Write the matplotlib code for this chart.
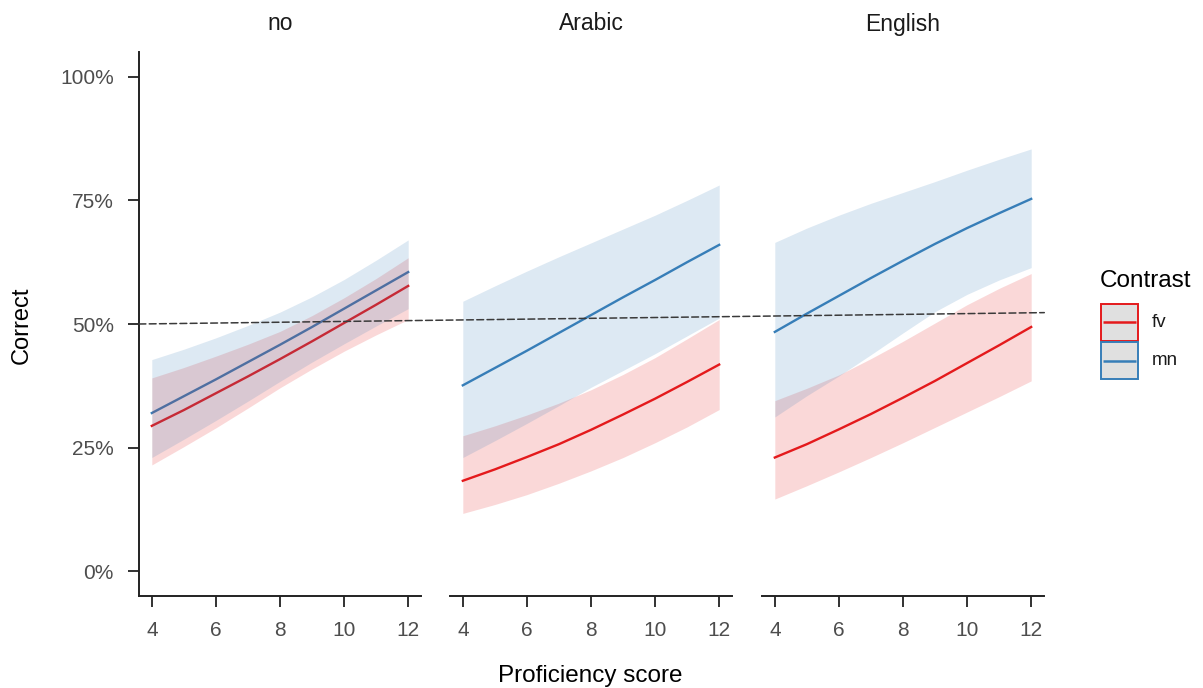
import matplotlib.pyplot as plt
from matplotlib.patches import Rectangle, ConnectionPatch
from matplotlib.ticker import PercentFormatter

plt.rcParams['font.family'] = ['Liberation Sans', 'DejaVu Sans']

# Proficiency scores where the model predictions are evaluated
score = [4, 5, 6, 7, 8, 9, 10, 11, 12]
panels = ['no', 'Arabic', 'English']
contrasts = ['fv', 'mn']

# Predicted proportion correct (fit, lower and upper 95% CI) per panel
no_fv_fit = [0.294, 0.326, 0.360, 0.394, 0.429, 0.465, 0.502, 0.539, 0.577]
no_fv_lo = [0.215, 0.252, 0.290, 0.330, 0.371, 0.409, 0.445, 0.478, 0.509]
no_fv_hi = [0.391, 0.412, 0.435, 0.459, 0.485, 0.517, 0.553, 0.592, 0.634]
no_mn_fit = [0.320, 0.354, 0.388, 0.423, 0.458, 0.494, 0.531, 0.568, 0.605]
no_mn_lo = [0.230, 0.267, 0.305, 0.344, 0.384, 0.423, 0.460, 0.496, 0.531]
no_mn_hi = [0.428, 0.449, 0.472, 0.497, 0.524, 0.555, 0.590, 0.629, 0.670]

ar_fv_fit = [0.183, 0.206, 0.231, 0.257, 0.286, 0.317, 0.349, 0.383, 0.418]
ar_fv_lo = [0.117, 0.135, 0.155, 0.178, 0.203, 0.230, 0.260, 0.292, 0.327]
ar_fv_hi = [0.274, 0.294, 0.316, 0.340, 0.367, 0.398, 0.432, 0.470, 0.509]
ar_mn_fit = [0.376, 0.411, 0.446, 0.482, 0.518, 0.554, 0.589, 0.625, 0.660]
ar_mn_lo = [0.230, 0.264, 0.299, 0.335, 0.372, 0.406, 0.440, 0.476, 0.512]
ar_mn_hi = [0.546, 0.577, 0.607, 0.636, 0.664, 0.692, 0.720, 0.750, 0.781]

en_fv_fit = [0.230, 0.257, 0.287, 0.318, 0.351, 0.385, 0.421, 0.457, 0.494]
en_fv_lo = [0.146, 0.173, 0.201, 0.230, 0.260, 0.291, 0.322, 0.353, 0.385]
en_fv_hi = [0.345, 0.370, 0.397, 0.430, 0.465, 0.502, 0.539, 0.572, 0.602]
en_mn_fit = [0.484, 0.521, 0.557, 0.593, 0.628, 0.662, 0.694, 0.724, 0.753]
en_mn_lo = [0.312, 0.355, 0.395, 0.438, 0.482, 0.525, 0.560, 0.589, 0.614]
en_mn_hi = [0.665, 0.694, 0.720, 0.744, 0.766, 0.788, 0.811, 0.833, 0.854]

# Chance reference line (start in first panel, end in last panel)
chance_start = 0.500
chance_end = 0.523

fits = {
    'no': {'fv': (no_fv_fit, no_fv_lo, no_fv_hi), 'mn': (no_mn_fit, no_mn_lo, no_mn_hi)},
    'Arabic': {'fv': (ar_fv_fit, ar_fv_lo, ar_fv_hi), 'mn': (ar_mn_fit, ar_mn_lo, ar_mn_hi)},
    'English': {'fv': (en_fv_fit, en_fv_lo, en_fv_hi), 'mn': (en_mn_fit, en_mn_lo, en_mn_hi)},
}
colors = {'fv': '#E41A1C', 'mn': '#377EB8'}

W, H = 1203, 688
fig = plt.figure(figsize=(W / 100, H / 100), dpi=100)

lefts = [139, 450, 762]
axes = []
for i, (name, left) in enumerate(zip(panels, lefts)):
    ax = fig.add_axes([left / W, 92 / H, 282 / W, 544 / H])
    axes.append(ax)
    # lines first, ribbons laid over them
    for contrast in contrasts:
        fit, lo, hi = fits[name][contrast]
        ax.plot(score, fit, color=colors[contrast], lw=1.7, zorder=2)
    for contrast in contrasts:
        fit, lo, hi = fits[name][contrast]
        ax.fill_between(score, lo, hi, color=colors[contrast], alpha=0.17,
                        lw=0, zorder=3)

    ax.set_xlim(3.6, 12.4)
    ax.set_ylim(-0.05, 1.05)
    ax.set_xticks([4, 6, 8, 10, 12])
    ax.set_yticks([0, 0.25, 0.5, 0.75, 1.0])
    ax.yaxis.set_major_formatter(PercentFormatter(1.0, decimals=0))
    for side in ['top', 'right']:
        ax.spines[side].set_visible(False)
    ax.spines['bottom'].set_linewidth(1.4)
    ax.spines['bottom'].set_color('#222222')
    ax.tick_params(axis='both', length=8, width=1.3, color='#222222',
                   labelsize=15, labelcolor='#4D4D4D')
    ax.tick_params(axis='x', pad=10)
    ax.tick_params(axis='y', pad=10)
    if i == 0:
        ax.spines['left'].set_linewidth(1.4)
        ax.spines['left'].set_color('#222222')
    else:
        ax.spines['left'].set_visible(False)
        ax.tick_params(axis='y', left=False, labelleft=False)
    ax.text(0.5, 1 + 28 / 544, name, transform=ax.transAxes, ha='center',
            va='center', fontsize=16.5, color='#1A1A1A')

# dashed chance line running across all panels
chance = ConnectionPatch(xyA=(3.6, chance_start), coordsA=axes[0].transData,
                         xyB=(12.41, chance_end), coordsB=axes[2].transData,
                         color='#3A3A3A', lw=1.1, linestyle=(0, (4.5, 2.2)),
                         zorder=5)
fig.add_artist(chance)

fig.text(22 / W, 1 - 325 / H, 'Correct', rotation=90, ha='center', va='center',
         fontsize=17)
fig.text(590 / W, 1 - 676 / H, 'Proficiency score', ha='center', va='center',
         fontsize=17.5)

# legend: title plus two stacked key boxes
fig.text(1100 / W, 1 - 281 / H, 'Contrast', ha='left', va='center',
         fontsize=17.5)
lax = fig.add_axes([1100 / W, 1 - 380 / H, 39 / W, 77 / H])
lax.set_xlim(0, 1)
lax.set_ylim(0, 2)
lax.axis('off')
for k, contrast in enumerate(contrasts):
    y0 = 1 - k
    lax.add_patch(Rectangle((0.02, y0 + 0.015), 0.96, 0.97, facecolor='#E0E0E0',
                            edgecolor=colors[contrast], lw=1.4, clip_on=False))
    lax.plot([0.08, 0.92], [y0 + 0.5, y0 + 0.5], color=colors[contrast],
             lw=1.8, solid_capstyle='butt')
    lax.text(52 / 39, y0 + 0.5, contrast, ha='left', va='center',
             fontsize=13.5, color='#1A1A1A', transform=lax.transData,
             clip_on=False)

fig.savefig('out.png', dpi=100)
